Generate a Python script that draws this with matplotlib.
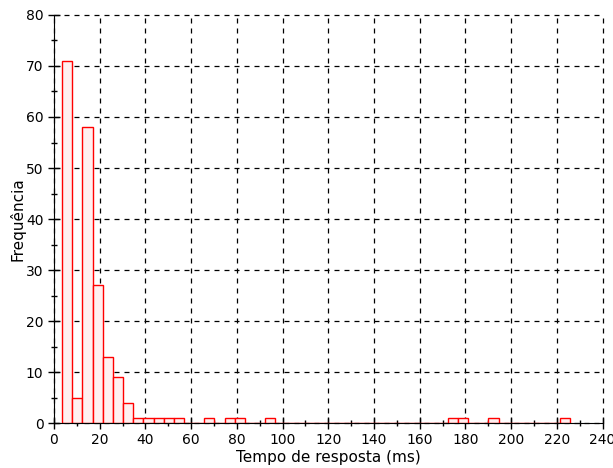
import numpy as np
import matplotlib.pyplot as plt
from matplotlib.ticker import MultipleLocator

# histogram of response times: 50 bins from 3.6 to 225.6 ms
bin_start = 3.6
bin_width = 4.44
counts = [71, 5, 58, 27, 13, 9, 4, 1, 1, 1,
          1, 1, 0, 0, 1, 0, 1, 1, 0, 0,
          1, 0, 0, 0, 0, 0, 0, 0, 0, 0,
          0, 0, 0, 0, 0, 0, 0, 0, 1, 1,
          0, 0, 1, 0, 0, 0, 0, 0, 0, 1]

edges = bin_start + bin_width * np.arange(len(counts) + 1)

fig = plt.figure(figsize=(6.13, 4.68), dpi=100)
ax = fig.add_axes([0.088, 0.096, 0.895, 0.872])

ax.hist(edges[:-1], bins=edges, weights=counts, facecolor="#fff0f0",
        edgecolor="red", linewidth=1.0, zorder=3)

ax.set_xlim(0, 240)
ax.set_ylim(0, 80)
ax.xaxis.set_major_locator(MultipleLocator(20))
ax.xaxis.set_minor_locator(MultipleLocator(10))
ax.yaxis.set_major_locator(MultipleLocator(10))
ax.yaxis.set_minor_locator(MultipleLocator(5))

ax.grid(True, which="major", color="black", linestyle=(0, (4, 4)), linewidth=0.9, zorder=1)
ax.set_axisbelow(True)
for line in ax.get_xgridlines() + ax.get_ygridlines():
    line.set_clip_on(False)
for s in ["top", "right"]:
    ax.spines[s].set_visible(False)
ax.spines["left"].set_zorder(4)
ax.spines["bottom"].set_zorder(4)

ax.tick_params(which="major", direction="inout", length=8, width=1, labelsize=10)
ax.tick_params(which="minor", direction="inout", length=5, width=1)

ax.set_xlabel("Tempo de resposta (ms)", fontsize=11, labelpad=2)
ax.set_ylabel("Frequência", fontsize=11, labelpad=0)

fig.savefig("out.png", dpi=100)
